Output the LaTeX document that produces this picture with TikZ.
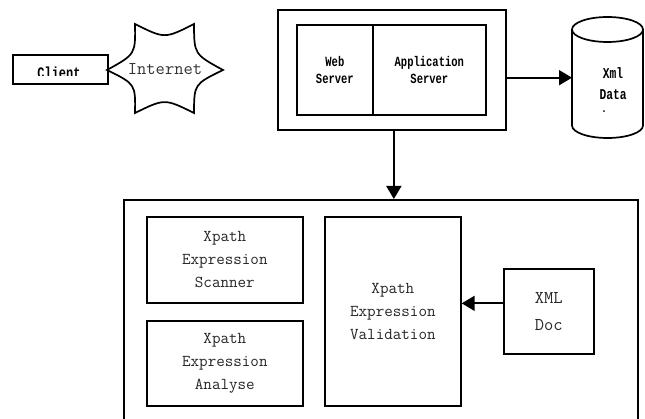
\documentclass[tikz,border=0pt]{standalone}
\usepackage{fontspec}
\newfontfamily\bmono{Liberation Mono}[FakeStretch=0.75]
\usetikzlibrary{calc,arrows.meta}
\begin{document}
\begin{tikzpicture}[x=1pt,y=-1pt,
  box/.style={draw,line width=1.7pt,rectangle,inner sep=0pt,anchor=north west,align=center},
  txt/.style={font=\ttfamily\fontsize{16.6}{23}\selectfont,text=black!85},
  btxt/.style={font=\bmono\bfseries\fontsize{14}{17}\selectfont},
  arr/.style={line width=1.7pt,-{Triangle[length=13pt,width=15pt]}},
  ln/.style={line width=1.7pt}]
\useasboundingbox (0,0) rectangle (645,419);
\clip (0,0) rectangle (645,419);
% Client
\node[box,minimum width=95pt,minimum height=29pt] (client) at (12,54) {};
\begin{scope}
  \clip (12,54) rectangle (107,75.5);
  \node[font=\bmono\bfseries\fontsize{16}{18}\selectfont,anchor=base,inner sep=0pt] (clienttext) at (59,79) {Client};
\end{scope}
% Internet star
\coordinate (sL) at (107,70);
\coordinate (sTL) at (135,24);
\coordinate (sTR) at (194,24);
\coordinate (sR) at (223,70);
\coordinate (sBR) at (194,113);
\coordinate (sBL) at (135,113);
\coordinate (sC) at (165,69);
\draw[ln,miter limit=20] (sL)
  .. controls ($($(sL)!.5!(sTL)$)!.33!(sC)$) .. (sTL)
  .. controls ($($(sTL)!.5!(sTR)$)!.33!(sC)$) .. (sTR)
  .. controls ($($(sTR)!.5!(sR)$)!.33!(sC)$) .. (sR)
  .. controls ($($(sR)!.5!(sBR)$)!.33!(sC)$) .. (sBR)
  .. controls ($($(sBR)!.5!(sBL)$)!.33!(sC)$) .. (sBL)
  .. controls ($($(sBL)!.5!(sL)$)!.33!(sC)$) .. (sL) -- cycle;
\node[font=\ttfamily\fontsize{18}{20}\selectfont,text=black!80] (inet) at (sC) {Internet};
% Server
\node[box,minimum width=228pt,minimum height=120pt] (server) at (277,9) {};
\node[box,btxt,minimum width=76pt,minimum height=90pt] (web) at (296,24) {Web\\Server};
\node[box,btxt,minimum width=113pt,minimum height=90pt] (app) at (372,24) {Application\\Server};
% Database cylinder
\node[inner sep=0pt,minimum width=71pt,minimum height=121pt,anchor=north west] (db) at (572,17) {};
\draw[ln] (572,29.5) -- (572,125.5)
  arc[start angle=180,end angle=360,x radius=35.5pt,y radius=12.5pt] -- (643,29.5);
\draw[ln] (607.5,29.5) ellipse[x radius=35.5pt,y radius=12.5pt];
\node[font=\bmono\bfseries\fontsize{15}{21}\selectfont,align=center] (dbtext) at (613,84) {Xml\\Data};
\node[font=\bmono\bfseries\fontsize{12}{12}\selectfont,inner sep=0pt] (dbdot) at (604,112) {.};
% Big box
\node[box,minimum width=514pt,minimum height=250pt] (big) at (123,199) {};
\node[box,txt,minimum width=156pt,minimum height=86pt] (scan) at (146,216) {Xpath\\Expression\\Scanner};
\node[box,txt,minimum width=156pt,minimum height=85pt] (anal) at (146,320) {Xpath\\Expression\\Analyse};
\node[box,txt,minimum width=136pt,minimum height=189pt] (val) at (324,216) {Xpath\\Expression\\Validation};
\node[box,font=\ttfamily\fontsize{18}{27}\selectfont,text=black!85,minimum width=90pt,minimum height=85pt] (xml) at (503,268) {XML\\Doc};
% Connectors
\draw[arr] (db.west -| server.east) -- (db.west);
\draw[arr] ([xshift=2pt]server.south) -- ([xshift=2pt]server.south |- big.north);
\draw[arr] ([yshift=8pt]xml.west) -- ([yshift=8pt]xml.west -| val.east);
\end{tikzpicture}
\end{document}
